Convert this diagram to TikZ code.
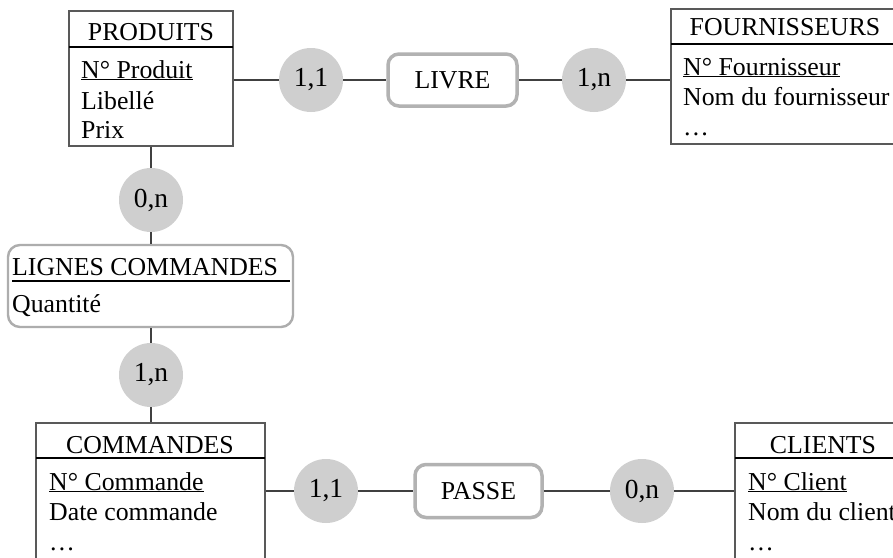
\documentclass[tikz,border=0pt]{standalone}
\usepackage{fontspec}
\setmainfont{Liberation Serif}
\usetikzlibrary{shadows}
\begin{document}
\begin{tikzpicture}[x=1pt,y=-1pt,
  font=\fontsize{25.8}{31}\selectfont,
  entity/.style={draw=black!65, line width=1.2pt, fill=white, inner sep=0pt},
  sepline/.style={draw=black, line width=1.6pt},
  card/.style={circle, fill=black!19, minimum size=64pt, inner sep=0pt, font=\fontsize{27.5}{32}\selectfont},
  rel/.style={draw=black!30, line width=3.5pt, fill=white, rounded corners=11pt, inner sep=0pt,
    drop shadow={opacity=0.25, shadow xshift=0.8pt, shadow yshift=-1.6pt}},
  assoc/.style={draw=black!32, line width=2.4pt, fill=white, rounded corners=12pt, inner sep=0pt},
  link/.style={draw=black!75, line width=1.4pt},
  lbl/.style={inner sep=0pt, anchor=base},
  attr/.style={inner sep=0pt, anchor=base west}]
\clip (0,0) rectangle (893,557);
\fill[white] (0,0) rectangle (893,557);

% ---- PRODUITS
\node[entity, minimum width=164pt, minimum height=135pt] (prod) at (151,78.5) {};
\draw[sepline] (69,47) -- (233,47);
\node[lbl] (prodT) at (151,40) {PRODUITS};
\node[attr] (prodA) at (81,78) {\underline{N° Produit}};
\node[attr] (prodB) at (81,109) {Libellé};
\node[attr] (prodC) at (81,138) {Prix};

% ---- FOURNISSEURS
\node[entity, minimum width=226pt, minimum height=135pt] (four) at (784,76.5) {};
\draw[sepline] (671,44) -- (897,44);
\node[lbl] (fourT) at (785,35) {FOURNISSEURS};
\node[attr] (fourA) at (683,75) {\underline{N° Fournisseur}};
\node[attr] (fourB) at (683,105) {Nom du fournisseur};
\node[attr] (fourC) at (683,135) {…};

% ---- LIGNES COMMANDES
\node[assoc, minimum width=285pt, minimum height=82pt] (lignes) at (150.5,286) {};
\draw[sepline] (12,281) -- (290,281);
\node[attr] (lignesT) at (12,275) {LIGNES COMMANDES};
\node[attr] (lignesA) at (12,312) {Quantité};

% ---- COMMANDES
\node[entity, minimum width=229pt, minimum height=140pt] (cmd) at (150.5,493) {};
\draw[sepline] (36,458) -- (265,458);
\node[lbl] (cmdT) at (150,453) {COMMANDES};
\node[attr] (cmdA) at (49,490) {\underline{N° Commande}};
\node[attr] (cmdB) at (49,520) {Date commande};
\node[attr] (cmdC) at (49,550) {…};

% ---- CLIENTS
\node[entity, minimum width=165pt, minimum height=140pt] (cli) at (817.5,493) {};
\draw[sepline] (735,458) -- (900,458);
\node[lbl] (cliT) at (823,453) {CLIENTS};
\node[attr] (cliA) at (748,490) {\underline{N° Client}};
\node[attr] (cliB) at (748,520) {Nom du client};
\node[attr] (cliC) at (748,550) {…};

% ---- relations
\node[rel, minimum width=129pt, minimum height=52pt] (livre) at (452.5,80) {LIVRE};
\node[rel, minimum width=127pt, minimum height=53pt] (passe) at (478.5,491) {PASSE};

% ---- cardinalities
\node[card] (c11a) at (311,80) {1,1};
\node[card] (c1na) at (594,80) {1,n};
\node[card] (c0na) at (151,200) {0,n};
\node[card] (c1nb) at (151,375) {1,n};
\node[card] (c11b) at (326,491) {1,1};
\node[card] (c0nb) at (642,491) {0,n};

% ---- connectors
\draw[link] (prod.east |- c11a) -- (c11a);
\draw[link] (c11a) -- (livre);
\draw[link] (livre) -- (c1na);
\draw[link] (c1na) -- (four.west |- c1na);

\draw[link] (prod.south -| c0na) -- (c0na);
\draw[link] (c0na) -- (lignes.north -| c0na);
\draw[link] (lignes.south -| c1nb) -- (c1nb);
\draw[link] (c1nb) -- (cmd.north -| c1nb);

\draw[link] (cmd.east |- c11b) -- (c11b);
\draw[link] (c11b) -- (passe);
\draw[link] (passe) -- (c0nb);
\draw[link] (c0nb) -- (cli.west |- c0nb);
\end{tikzpicture}
\end{document}
